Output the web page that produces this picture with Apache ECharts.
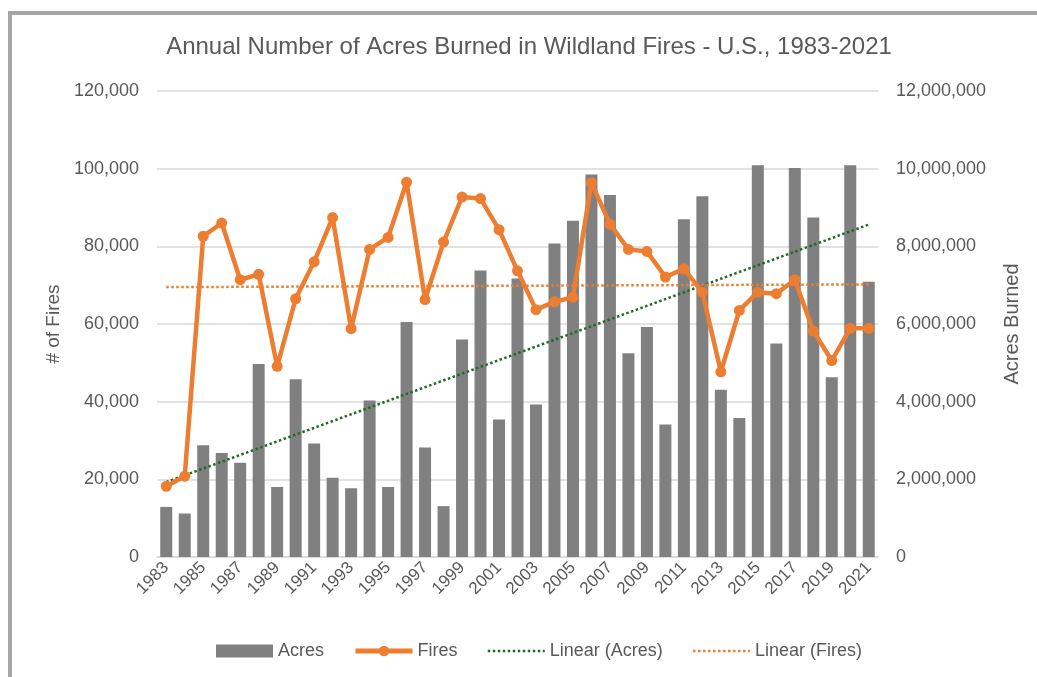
<!DOCTYPE html>
<html>
<head>
<meta charset="utf-8">
<script src="https://cdn.jsdelivr.net/npm/echarts@6/dist/echarts.min.js"></script>
<style>
  html, body { margin: 0; padding: 0; background: #fff; }
  #main { width: 1037px; height: 677px; }
</style>
</head>
<body>
<div id="main"></div>
<script>
// values
const years = [
  "1983", "1984", "1985", "1986", "1987", "1988", "1989", "1990", "1991", "1992",
  "1993", "1994", "1995", "1996", "1997", "1998", "1999", "2000", "2001", "2002",
  "2003", "2004", "2005", "2006", "2007", "2008", "2009", "2010", "2011", "2012",
  "2013", "2014", "2015", "2016", "2017", "2018", "2019", "2020", "2021"
];

const acres = [
  1290000, 1120000, 2880000, 2680000, 2430000, 4970000, 1800000, 4580000, 2920000, 2040000,
  1770000, 4030000, 1800000, 6050000, 2820000, 1310000, 5600000, 7380000, 3540000, 7170000,
  3930000, 8070000, 8660000, 9850000, 9320000, 5250000, 5920000, 3410000, 8700000, 9290000,
  4310000, 3580000, 10090000, 5500000, 10020000, 8740000, 4630000, 10090000, 7090000
];

const fires = [
  18200, 20800, 82600, 86000, 71400, 72800, 49100, 66500, 76000, 87400,
  58800, 79200, 82300, 96500, 66300, 81100, 92700, 92300, 84300, 73700,
  63700, 65700, 66900, 96400, 85700, 79200, 78700, 72100, 74200, 68200,
  47700, 63500, 68200, 67800, 71400, 58200, 50600, 58900, 58900
];

// trend line end points (first and last year), as drawn in the picture
const acresTrendEnds = [1930000, 8560000];
const firesTrendEnds = [69500, 70200];

const leftTicks = [0, 120000, 20000];      // min, max, step
const rightTicks = [0, 12000000, 2000000];

function endsOnly(ends) {
  return years.map((y, i) => i === 0 ? ends[0] : (i === years.length - 1 ? ends[1] : null));
}

const txt = "#595959";
const orange = "#ed7d31";
const green = "#1d6b25";
const font = "Liberation Sans, Arial, sans-serif";
const fmt = (v) => v.toLocaleString("en-US");

let myChart = echarts.init(document.getElementById("main"));

let options = {
  animation: false,
  textStyle: { fontFamily: font, color: txt },
  graphic: [
    {
      type: "rect",
      shape: { x: 10, y: 13, width: 1100, height: 800 },
      style: { fill: "none", stroke: "#a6a6a6", lineWidth: 4 },
      silent: true
    },
    {
      type: "text",
      x: 529, y: 47,
      style: {
        text: "Annual Number of Acres Burned in Wildland Fires - U.S., 1983-2021",
        font: "24px " + font,
        fill: txt,
        align: "center",
        verticalAlign: "middle"
      }
    }
  ],
  grid: { left: 157, right: 159, top: 91, bottom: 120 },
  legend: {
    left: 211,
    top: 637,
    itemWidth: 57,
    itemHeight: 13,
    itemGap: 29,
    textStyle: { fontSize: 18, color: txt, fontFamily: font },
    data: [
      { name: "Acres", icon: "rect" },
      { name: "Fires", lineStyle: { width: 5 } },
      { name: "Linear (Acres)", itemStyle: { opacity: 0 }, lineStyle: { width: 2.5, type: "dotted" } },
      { name: "Linear (Fires)", itemStyle: { opacity: 0 }, lineStyle: { width: 2.5, type: "dotted" } }
    ]
  },
  xAxis: {
    type: "category",
    data: years,
    axisLine: { lineStyle: { color: "#d9d9d9", width: 1.5 } },
    axisTick: { show: false },
    axisLabel: { interval: 1, rotate: 45, fontSize: 17, color: txt, margin: 8 }
  },
  yAxis: [
    {
      type: "value",
      min: leftTicks[0], max: leftTicks[1], interval: leftTicks[2],
      name: "# of Fires",
      nameLocation: "middle",
      nameGap: 94,
      nameTextStyle: { fontSize: 19, color: txt },
      axisLine: { show: false },
      axisTick: { show: false },
      axisLabel: { fontSize: 18, color: txt, margin: 18, formatter: fmt },
      splitLine: { lineStyle: { color: "#d9d9d9", width: 1.5 } }
    },
    {
      type: "value",
      min: rightTicks[0], max: rightTicks[1], interval: rightTicks[2],
      name: "Acres Burned",
      nameLocation: "middle",
      nameGap: 124,
      nameTextStyle: { fontSize: 20, color: txt },
      axisLine: { show: false },
      axisTick: { show: false },
      axisLabel: { fontSize: 18, color: txt, margin: 18, formatter: fmt },
      splitLine: { show: false }
    }
  ],
  series: [
    {
      name: "Acres",
      type: "bar",
      yAxisIndex: 1,
      data: acres,
      barWidth: 12,
      itemStyle: { color: "#808080" },
      z: 1
    },
    {
      name: "Linear (Acres)",
      type: "line",
      yAxisIndex: 1,
      data: endsOnly(acresTrendEnds),
      connectNulls: true,
      symbol: "none",
      lineStyle: { color: green, width: 2.5, type: "dotted" },
      itemStyle: { color: green },
      z: 3
    },
    {
      name: "Linear (Fires)",
      type: "line",
      yAxisIndex: 0,
      data: endsOnly(firesTrendEnds),
      connectNulls: true,
      symbol: "none",
      lineStyle: { color: orange, width: 2.5, type: "dotted" },
      itemStyle: { color: orange },
      z: 3
    },
    {
      name: "Fires",
      type: "line",
      yAxisIndex: 0,
      data: fires,
      symbol: "circle",
      symbolSize: 11,
      lineStyle: { color: orange, width: 4.5 },
      itemStyle: { color: orange },
      z: 4
    }
  ]
};
myChart.setOption(options);
</script>
</body>
</html>
